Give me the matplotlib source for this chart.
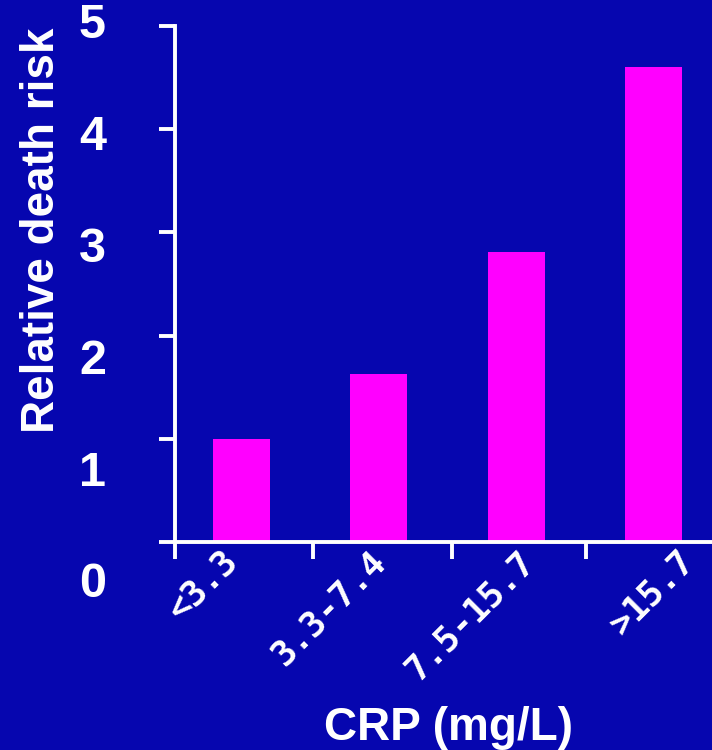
import numpy as np
import matplotlib
matplotlib.use("Agg")
import matplotlib.pyplot as plt
import matplotlib.transforms as mtransforms

# --- data ---
categories = ["<3.3", "3.3-7.4", "7.5-15.7", ">15.7"]
risk = [1.0, 1.63, 2.81, 4.60]
y_ticks = [0, 1, 2, 3, 4, 5]

BG = "#0606AF"
BAR = "#FF00FF"
FG = "white"

fig = plt.figure(figsize=(7.12, 7.5), dpi=100, facecolor=BG)
ax = fig.add_axes([175 / 712, 1 - 542 / 750, (712 - 175) / 712, (542 - 26) / 750])
ax.set_facecolor(BG)

x = np.arange(len(categories))
ax.bar(x, risk, width=0.415, color=BAR, zorder=2)

ax.set_xlim(-0.484, 3.424)
ax.set_ylim(0, 5)

for side in ["top", "right"]:
    ax.spines[side].set_visible(False)
for side in ["left", "bottom"]:
    ax.spines[side].set_color(FG)
    ax.spines[side].set_linewidth(2.8)
    ax.spines[side].set_zorder(3)

# category boundary ticks on x, no labels
ax.set_xticks([-0.484, 0.52, 1.53, 2.51])
ax.set_xticklabels([])
ax.tick_params(axis="x", length=12, width=2.8, color=FG, direction="out")

ax.set_yticks(y_ticks)
ax.set_yticklabels([])
ax.tick_params(axis="y", length=11.5, width=2.8, color=FG, direction="out")

# y tick labels, spaced a bit wider than the ticks like in the original
ylab_tr = mtransforms.blended_transform_factory(ax.transAxes, ax.transData)
for v in y_ticks:
    ax.text(-0.1285, 5 - (5 - v) * 1.083, str(v), transform=ylab_tr,
            ha="right", va="center", color=FG, fontsize=35,
            family="Liberation Sans", weight="bold", clip_on=False)

# rotated category labels
xlab_tr = mtransforms.blended_transform_factory(ax.transData, ax.transAxes)
shifts = [3, 14, 25, 47]
for i, (lab, dx) in enumerate(zip(categories, shifts)):
    tr = xlab_tr + mtransforms.ScaledTranslation(dx / 100, -2 / 100, fig.dpi_scale_trans)
    ax.text(i, 0, lab, transform=tr, rotation=45, ha="right", va="top",
            color=FG, fontsize=25, family="DejaVu Sans Mono", weight="bold",
            clip_on=False)

fig.text(42 / 712, 1 - 230 / 750, "Relative death risk", rotation=90,
         ha="center", va="center", color=FG, fontsize=33,
         family="Liberation Sans", weight="bold")
fig.text(449 / 712, 1 - 740 / 750, "CRP (mg/L)", ha="center", va="baseline",
         color=FG, fontsize=33, family="Liberation Sans", weight="bold")

fig.savefig("out.png", dpi=100, facecolor=BG)
